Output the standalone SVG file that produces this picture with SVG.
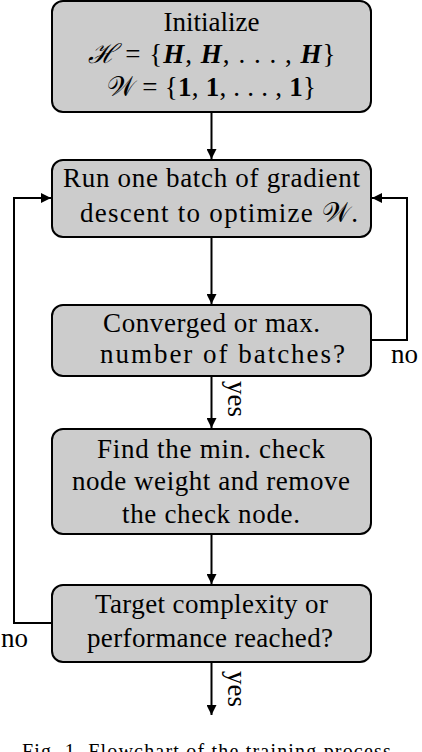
<svg xmlns="http://www.w3.org/2000/svg" width="422" height="752" viewBox="0 0 422 752">
<style>
.box{fill:#cccccc;stroke:#000;stroke-width:2}
text{font-family:'Liberation Serif','Times New Roman',serif;fill:#000}
.t{font-size:27px;text-anchor:middle}
.bi{font-weight:bold;font-style:italic}
.b{font-weight:bold}
.lbl{font-size:27px}
.cap{font-size:20px}
.c{fill:none;stroke:#000;stroke-width:2}
</style>
<defs>
<marker id="ah" viewBox="0 0 10 10" refX="10" refY="5" markerWidth="5" markerHeight="5" markerUnits="strokeWidth" orient="auto">
<path d="M0,0 L10,5 L0,10 z" fill="#000"/>
</marker>
</defs>
<g id="connectors">
<line class="c" x1="211.5" y1="112" x2="211.5" y2="159" marker-end="url(#ah)"/>
<line class="c" x1="211.5" y1="237" x2="211.5" y2="304" marker-end="url(#ah)"/>
<line class="c" x1="211.5" y1="376" x2="211.5" y2="428" marker-end="url(#ah)"/>
<line class="c" x1="211.5" y1="534" x2="211.5" y2="584" marker-end="url(#ah)"/>
<line class="c" x1="211.5" y1="662" x2="211.5" y2="715" marker-end="url(#ah)"/>
<polyline class="c" points="371,340 407,340 407,198 372,198" marker-end="url(#ah)"/>
<polyline class="c" points="52,623 14,623 14,198 51,198" marker-end="url(#ah)"/>
<text class="lbl" x="391" y="363">no</text>
<text class="lbl" x="1" y="647">no</text>
<text class="lbl" transform="translate(228,381) rotate(90)">yes</text>
<text class="lbl" transform="translate(228,671) rotate(90)">yes</text>
</g>
<g id="init">
<rect class="box" x="52" y="1" width="319" height="111" rx="11"/>
<text class="t" x="211.5" y="31">Initialize</text>
<text class="t" x="211.5" y="63" textLength="248" lengthAdjust="spacing"><tspan font-style="italic">ℋ</tspan> = {<tspan class="bi">H</tspan>, <tspan class="bi">H</tspan>, . . . , <tspan class="bi">H</tspan>}</text>
<text class="t" x="211.5" y="96" textLength="209" lengthAdjust="spacing">𝒲 = {<tspan class="b">1</tspan>, <tspan class="b">1</tspan>, . . . , <tspan class="b">1</tspan>}</text>
</g>
<g id="run">
<rect class="box" x="52" y="160" width="319" height="77" rx="11"/>
<text class="t" x="211.5" y="187" textLength="297" lengthAdjust="spacing">Run one batch of gradient</text>
<text class="t" x="219" y="222" textLength="278" lengthAdjust="spacing">descent to optimize 𝒲.</text>
</g>
<g id="converged">
<rect class="box" x="52" y="305" width="319" height="71" rx="11"/>
<text class="t" x="211.5" y="332" textLength="217" lengthAdjust="spacing">Converged or max.</text>
<text class="t" x="222.5" y="363" textLength="245" lengthAdjust="spacing">number of batches?</text>
</g>
<g id="find">
<rect class="box" x="52" y="429" width="319" height="105" rx="11"/>
<text class="t" x="211" y="458" textLength="228" lengthAdjust="spacing">Find the min. check</text>
<text class="t" x="211" y="490" textLength="278" lengthAdjust="spacing">node weight and remove</text>
<text class="t" x="211" y="523" textLength="178" lengthAdjust="spacing">the check node.</text>
</g>
<g id="target">
<rect class="box" x="52" y="585" width="319" height="77" rx="11"/>
<text class="t" x="211.5" y="613" textLength="233" lengthAdjust="spacing">Target complexity or</text>
<text class="t" x="210" y="647" textLength="246" lengthAdjust="spacing">performance reached?</text>
</g>
<text class="cap" x="22" y="758" textLength="375" lengthAdjust="spacing">Fig. 1.  Flowchart of the training process.</text>
</svg>
